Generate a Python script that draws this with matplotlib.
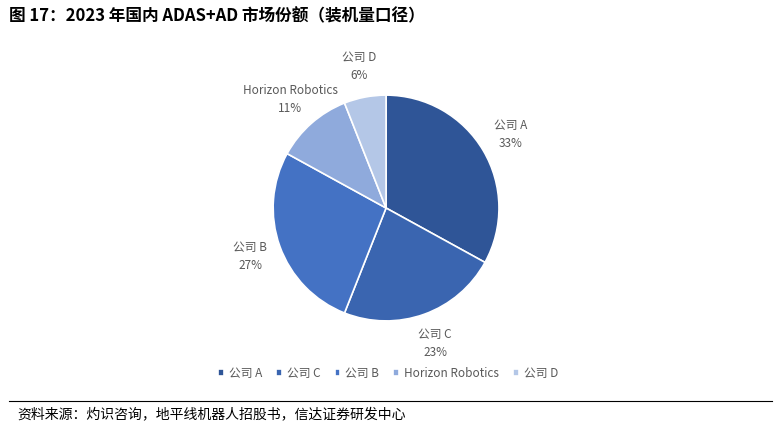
import matplotlib.pyplot as plt

plt.rcParams['font.family'] = ['Noto Sans CJK SC', 'DejaVu Sans']

names = ["公司 A", "公司 C", "公司 B", "Horizon Robotics", "公司 D"]
shares = [33, 23, 27, 11, 6]
colors = ["#2F5597", "#3A65B0", "#4472C4", "#8FAADC", "#B4C7E7"]

fig = plt.figure(figsize=(7.76, 4.28), dpi=100)

fig.text(0.012, 0.962, "图 17：2023 年国内 ADAS+AD 市场份额（装机量口径）",
         fontsize=12, fontweight="bold", va="center", color="#000000")

ax = fig.add_axes([0.352, 0.25, 0.291, 0.528])
labels = ["{}\n{}%".format(n, s) for n, s in zip(names, shares)]
wedges, texts = ax.pie(shares, colors=colors, startangle=90, counterclock=False,
                       labels=labels, labeldistance=1.28,
                       wedgeprops=dict(edgecolor="white", linewidth=1.2),
                       textprops=dict(fontsize=8.5, color="#595959", linespacing=1.5))
for t in texts:
    t.set_horizontalalignment("center")
    t.set_clip_on(False)
ax.set_aspect("equal")
ax.set_xlim(-1.0, 1.0)
ax.set_ylim(-1.0, 1.0)

fig.legend(wedges, names, loc="center", bbox_to_anchor=(0.5, 0.128), ncol=5,
           frameon=False, fontsize=8.5, handlelength=0.5, handleheight=0.5,
           columnspacing=1.2, handletextpad=0.4, labelcolor="#595959")

fig.add_artist(plt.Line2D([0.012, 0.995], [0.062, 0.062], color="black", lw=0.8))
fig.text(0.022, 0.032, "资料来源：灼识咨询，地平线机器人招股书，信达证券研发中心",
         fontsize=10, style="italic", va="center", color="#000000")

fig.savefig("out.png", dpi=100)
